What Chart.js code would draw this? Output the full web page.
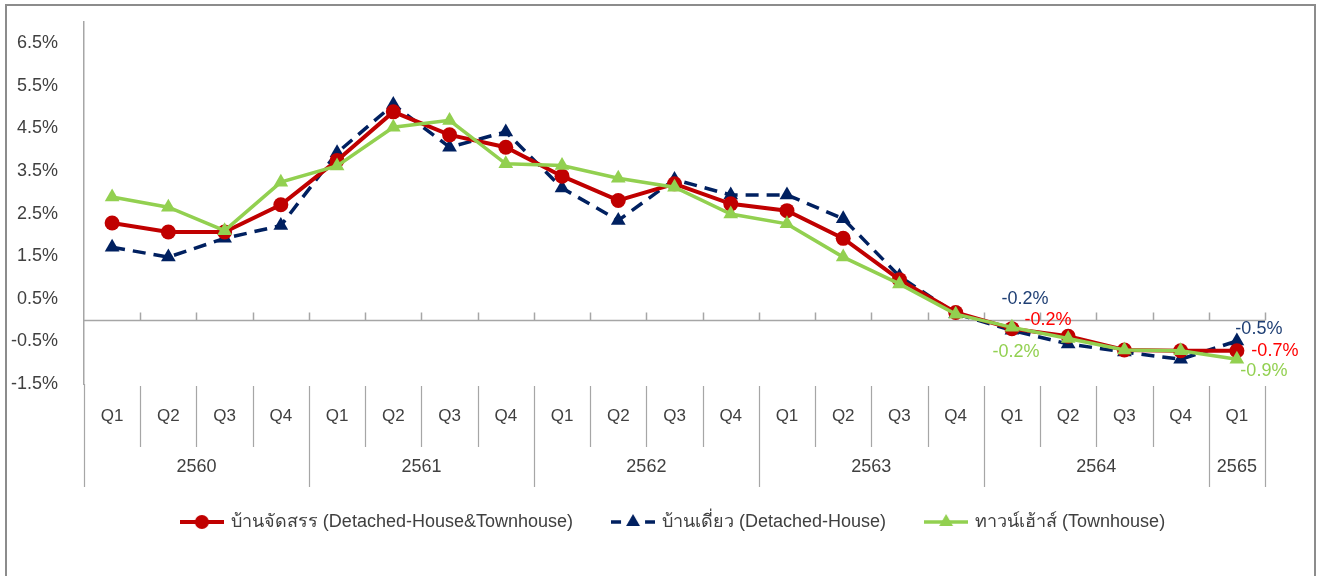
<!DOCTYPE html>
<html>
<head>
<meta charset="utf-8">
<script src="https://cdn.jsdelivr.net/npm/chart.js@4.4.1/dist/chart.umd.min.js"></script>
<style>
  html, body { margin: 0; padding: 0; background: #fff; }
  #wrap { position: relative; width: 1319px; height: 576px; }
</style>
</head>
<body>
<div id="wrap"><canvas id="myChart" width="1319" height="576"></canvas></div>
<script>
const quarters = ["Q1", "Q2", "Q3", "Q4", "Q1", "Q2", "Q3", "Q4", "Q1", "Q2", "Q3", "Q4",
  "Q1", "Q2", "Q3", "Q4", "Q1", "Q2", "Q3", "Q4", "Q1"];
const years = ["2560", "2561", "2562", "2563", "2564", "2565"];
const yearSpans = [4, 4, 4, 4, 4, 1];
const yTicks = [-1.5, -0.5, 0.5, 1.5, 2.5, 3.5, 4.5, 5.5, 6.5];

const allHomes = [2.28, 2.07, 2.07, 2.71, 3.75, 4.89, 4.35, 4.06, 3.38, 2.81, 3.20, 2.73,
  2.57, 1.92, 0.95, 0.18, -0.20, -0.38, -0.70, -0.72, -0.72];
const detached = [1.71, 1.48, 1.92, 2.22, 3.93, 5.06, 4.06, 4.42, 3.10, 2.34, 3.30, 2.94,
  2.94, 2.38, 1.03, 0.15, -0.24, -0.56, -0.75, -0.92, -0.49];
const townhouse = [2.89, 2.65, 2.10, 3.24, 3.62, 4.53, 4.69, 3.67, 3.63, 3.33, 3.12, 2.49,
  2.26, 1.48, 0.85, 0.14, -0.17, -0.43, -0.70, -0.72, -0.92];
const labelledPoints = [16, 20];

const FONT = "'Liberation Sans', Arial, sans-serif";
const GRAY = "#a6a6a6";
const TEXT = "#404040";
const PAD_BOTTOM = 35;

function legendIcon(color, dash, style, lw, r) {
  const c = document.createElement("canvas");
  c.width = 44;
  c.height = 18;
  const g = c.getContext("2d");
  g.strokeStyle = color;
  g.lineWidth = lw;
  g.setLineDash(dash);
  g.beginPath();
  g.moveTo(0, 9);
  g.lineTo(44, 9);
  g.stroke();
  g.setLineDash([]);
  g.fillStyle = color;
  g.beginPath();
  if (style === "circle") {
    g.arc(22, 9, r, 0, Math.PI * 2);
  } else {
    g.moveTo(22, 9 - r);
    g.lineTo(22 + r * 0.866, 9 + r / 2);
    g.lineTo(22 - r * 0.866, 9 + r / 2);
    g.closePath();
  }
  g.fill();
  return c;
}
const icons = [
  legendIcon("#C00000", [], "circle", 4, 7),
  legendIcon("#002060", [10, 24], "triangle", 3.5, 8),
  legendIcon("#92D050", [], "triangle", 3.5, 8),
];

// per dataset: label colour and offsets (px) from the point for the two labelled points
const labelStyle = [
  { color: "#FF0000", off: [[36, -9], [38, 0]] },
  { color: "#1F3F74", off: [[13, -31], [22, -12]] },
  { color: "#92D050", off: [[4, 25], [27, 12]] },
];

const frame = {
  id: "frame",
  beforeDraw(chart) {
    const ctx = chart.ctx;
    ctx.save();
    ctx.fillStyle = "#fff";
    ctx.fillRect(0, 0, chart.width, chart.height);
    ctx.strokeStyle = "#8c8c8c";
    ctx.lineWidth = 2;
    ctx.beginPath();
    ctx.moveTo(6, chart.height + 2);
    ctx.lineTo(6, 5);
    ctx.lineTo(1315, 5);
    ctx.lineTo(1315, chart.height + 2);
    ctx.stroke();
    ctx.restore();
  },
};

const axisTable = {
  id: "axisTable",
  beforeDatasetsDraw(chart) {
    const ctx = chart.ctx;
    const a = chart.chartArea;
    const x = chart.scales.x;
    const y0 = Math.round(chart.scales.y.getPixelForValue(0)) + 0.5;
    const bw = x.getPixelForValue(1) - x.getPixelForValue(0);
    ctx.save();
    ctx.strokeStyle = GRAY;
    ctx.lineWidth = 1.5;
    ctx.beginPath();
    ctx.moveTo(a.left, y0);
    ctx.lineTo(a.right, y0);
    for (let i = 1; i <= quarters.length; i++) {
      const bx = Math.round(x.getPixelForValue(i) - bw / 2) + 0.5;
      ctx.moveTo(bx, y0);
      ctx.lineTo(bx, y0 - 8);
    }
    ctx.stroke();

    // category table below the plot
    const bounds = [0];
    yearSpans.forEach((s) => bounds.push(bounds[bounds.length - 1] + s));
    ctx.lineWidth = 1.2;
    ctx.beginPath();
    for (let i = 0; i <= quarters.length; i++) {
      const bx = Math.round(x.getPixelForValue(i) - bw / 2) + 0.5;
      const isYear = bounds.includes(i);
      ctx.moveTo(bx, i === 0 ? a.bottom : a.bottom + 2);
      ctx.lineTo(bx, isYear ? 487 : 447);
    }
    ctx.stroke();

    ctx.fillStyle = TEXT;
    ctx.font = "17px " + FONT;
    ctx.textAlign = "center";
    ctx.textBaseline = "middle";
    quarters.forEach((q, i) => ctx.fillText(q, x.getPixelForValue(i), 416));
    ctx.font = "18px " + FONT;
    years.forEach((yr, k) => {
      const cx = (x.getPixelForValue(bounds[k]) + x.getPixelForValue(bounds[k + 1] - 1)) / 2;
      ctx.fillText(yr, cx, 467);
    });
    ctx.restore();
  },
  afterDatasetsDraw(chart) {
    const ctx = chart.ctx;
    ctx.save();
    ctx.font = "18px " + FONT;
    ctx.textAlign = "center";
    ctx.textBaseline = "middle";
    chart.data.datasets.forEach((ds, d) => {
      const meta = chart.getDatasetMeta(d);
      labelledPoints.forEach((idx, k) => {
        const pt = meta.data[idx];
        const [dx, dy] = labelStyle[d].off[k];
        ctx.fillStyle = labelStyle[d].color;
        ctx.fillText(ds.data[idx].toFixed(1) + "%", pt.x + dx, pt.y + dy);
      });
    });
    ctx.restore();
  },
};

const ctx = document.getElementById("myChart");
new Chart(ctx, {
  type: "line",
  data: {
    labels: quarters,
    datasets: [
      {
        label: "บ้านจัดสรร (Detached-House&Townhouse)",
        data: allHomes,
        borderColor: "#C00000",
        backgroundColor: "#C00000",
        borderWidth: 4,
        pointStyle: "circle",
        pointRadius: 7.5,
        pointBorderWidth: 0,
        order: 1,
      },
      {
        label: "บ้านเดี่ยว (Detached-House)",
        data: detached,
        borderColor: "#002060",
        backgroundColor: "#002060",
        borderWidth: 3.5,
        borderDash: [13, 8],
        pointStyle: "triangle",
        pointRadius: 8.5,
        pointBorderWidth: 0,
        order: 2,
      },
      {
        label: "ทาวน์เฮ้าส์ (Townhouse)",
        data: townhouse,
        borderColor: "#92D050",
        backgroundColor: "#92D050",
        borderWidth: 3.5,
        pointStyle: "triangle",
        pointRadius: 8.5,
        pointBorderWidth: 0,
        order: 0,
      },
    ],
  },
  options: {
    responsive: false,
    animation: false,
    events: [],
    layout: { padding: { left: 0, right: -28, top: 22, bottom: PAD_BOTTOM } },
    scales: {
      x: {
        type: "category",
        offset: true,
        grid: { display: false, drawTicks: false },
        border: { display: false },
        ticks: { display: false },
        afterFit(s) {
          const lh = s.chart.legend ? s.chart.legend.height : 0;
          s.height = Math.max(0, s.chart.height - PAD_BOTTOM - lh - 384);
          s.paddingLeft = 0;
          s.paddingRight = 0;
        },
      },
      y: {
        min: -1.5,
        max: 7,
        afterBuildTicks(s) {
          s.ticks = yTicks.map((v) => ({ value: v }));
        },
        afterFit(s) {
          s.width = 84;
          s.paddingTop = 0;
          s.paddingBottom = 0;
        },
        grid: { display: false, drawTicks: false },
        border: { display: true, color: GRAY, width: 1.5 },
        ticks: {
          padding: 26,
          color: TEXT,
          font: { family: FONT, size: 18 },
          callback: (v) => v.toFixed(1) + "%",
        },
      },
      yRight: {
        position: "right",
        grid: { display: false, drawTicks: false },
        border: { display: false },
        ticks: { display: false },
        afterFit(s) {
          s.width = 82;
          s.paddingTop = 0;
          s.paddingBottom = 0;
        },
      },
    },
    plugins: {
      tooltip: { enabled: false },
      legend: {
        position: "bottom",
        labels: {
          usePointStyle: true,
          pointStyleWidth: 40,
          padding: 40,
          color: TEXT,
          font: { family: FONT, size: 18 },
          sort: (a, b) => a.datasetIndex - b.datasetIndex,
          generateLabels(chart) {
            const items = Chart.defaults.plugins.legend.labels.generateLabels(chart);
            items.forEach((it) => {
              it.pointStyle = icons[it.datasetIndex];
            });
            return items;
          },
        },
      },
    },
  },
  plugins: [frame, axisTable],
});
</script>
</body>
</html>
